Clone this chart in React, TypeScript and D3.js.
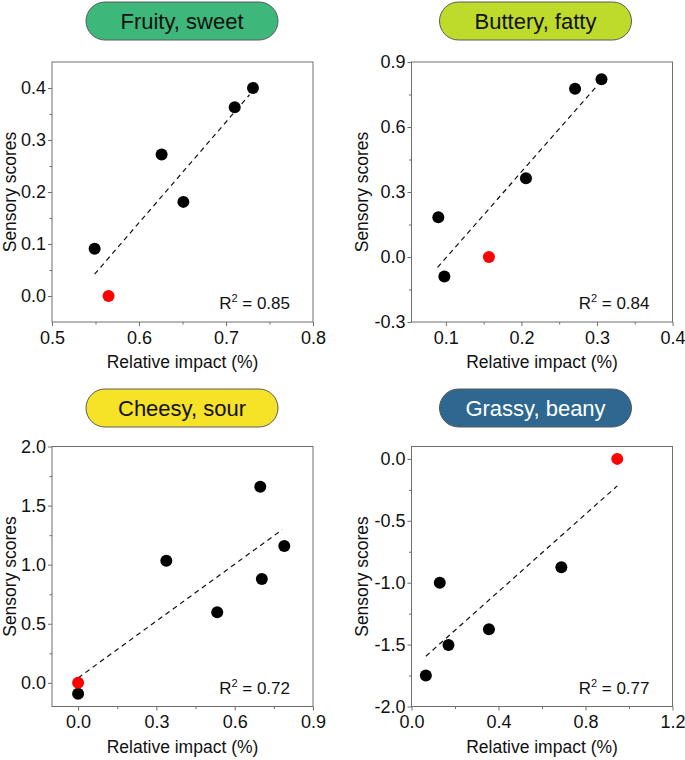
import React, { useRef, useEffect } from 'react';
import * as d3 from 'd3';

// Fruity, sweet
const fruityX = [0.549, 0.626, 0.651, 0.710, 0.731];
const fruityY = [0.091, 0.272, 0.181, 0.363, 0.400];
const fruityRef = [0.565, 0.0];
const fruityFitX = [0.549, 0.727];
const fruityFitY = [0.042, 0.387];

// Buttery, fatty
const butteryX = [0.090, 0.098, 0.206, 0.271, 0.306];
const butteryY = [0.183, -0.090, 0.363, 0.777, 0.820];
const butteryRef = [0.157, 0.0];
const butteryFitX = [0.089, 0.300];
const butteryFitY = [-0.048, 0.790];

// Cheesy, sour
const cheesyX = [0.0, 0.338, 0.533, 0.698, 0.704, 0.790];
const cheesyY = [-0.093, 1.034, 0.597, 1.659, 0.879, 1.158];
const cheesyRef = [0.0, 0.0];
const cheesyFitX = [0.0, 0.782];
const cheesyFitY = [0.042, 1.296];

// Grassy, beany
const grassyX = [0.066, 0.130, 0.170, 0.356, 0.689];
const grassyY = [-1.750, -1.000, -1.503, -1.376, -0.876];
const grassyRef = [0.946, 0.0];
const grassyFitX = [0.066, 0.946];
const grassyFitY = [-1.594, -0.218];

const plotW = 261;
const plotH = 260;
const fontFamily = 'Arial, "Liberation Sans", sans-serif';

interface PanelProps {
  left: number;
  top: number;
  title: string;
  pillColor: string;
  pillText: string;
  pillCx: number;
  pillY: number;
  xs: number[];
  ys: number[];
  refPoint: number[];
  fitX: number[];
  fitY: number[];
  xDomain: [number, number];
  yDomain: [number, number];
  xTicks: number[];
  yTicks: number[];
  xMinor: number[];
  yMinor: number[];
  r2: string;
  yLabelOffset: number;
}

const fmt = (d: d3.NumberValue) => d3.format('.1f')(Number(d)).replace('\u2212', '-');

const ScatterPanel: React.FC<PanelProps> = (p) => {
  const gRef = useRef<SVGGElement | null>(null);

  useEffect(() => {
    const g = d3.select(gRef.current);
    g.selectAll('*').remove();

    const x = d3.scaleLinear().domain(p.xDomain).range([0, plotW]);
    const y = d3.scaleLinear().domain(p.yDomain).range([plotH, 0]);

    // title pill
    g.append('rect')
      .attr('x', p.pillCx - p.left - 96)
      .attr('y', p.pillY - p.top)
      .attr('width', 192)
      .attr('height', 38)
      .attr('rx', 19)
      .attr('fill', p.pillColor)
      .attr('stroke', '#5a5a5a')
      .attr('stroke-width', 1);
    g.append('text')
      .attr('x', p.pillCx - p.left)
      .attr('y', p.pillY - p.top + 27.3)
      .attr('text-anchor', 'middle')
      .attr('font-size', 22)
      .attr('fill', p.pillText)
      .text(p.title);

    // minor ticks
    const xMinorAxis = d3.axisBottom(x).tickValues(p.xMinor).tickSize(2.5).tickFormat(() => '');
    const yMinorAxis = d3.axisLeft(y).tickValues(p.yMinor).tickSize(2.5).tickFormat(() => '');
    g.append('g').attr('transform', `translate(0,${plotH})`).call(xMinorAxis);
    g.append('g').call(yMinorAxis);

    // major ticks
    const xAxis = d3.axisBottom(x).tickValues(p.xTicks).tickSize(4).tickPadding(5).tickFormat(fmt);
    const yAxis = d3.axisLeft(y).tickValues(p.yTicks).tickSize(4).tickPadding(2).tickFormat(fmt);
    g.append('g').attr('transform', `translate(0,${plotH})`).call(xAxis);
    g.append('g').call(yAxis);

    g.selectAll('.domain').remove();
    g.selectAll('.tick line').attr('stroke', '#6e6e6e');
    g.selectAll('.tick text')
      .attr('font-size', 18)
      .attr('font-family', fontFamily)
      .attr('fill', '#111');

    // frame
    g.append('rect')
      .attr('x', 0)
      .attr('y', 0)
      .attr('width', plotW)
      .attr('height', plotH)
      .attr('fill', 'none')
      .attr('stroke', '#6e6e6e')
      .attr('stroke-width', 1);

    // fit line
    g.append('line')
      .attr('x1', x(p.fitX[0]))
      .attr('y1', y(p.fitY[0]))
      .attr('x2', x(p.fitX[1]))
      .attr('y2', y(p.fitY[1]))
      .attr('stroke', '#111')
      .attr('stroke-width', 1.2)
      .attr('stroke-dasharray', '5,4');

    // points
    g.append('g')
      .selectAll('circle')
      .data(p.xs.map((v, i) => [v, p.ys[i]]))
      .enter()
      .append('circle')
      .attr('cx', d => x(d[0]))
      .attr('cy', d => y(d[1]))
      .attr('r', 6)
      .attr('fill', '#000');

    g.append('circle')
      .attr('cx', x(p.refPoint[0]))
      .attr('cy', y(p.refPoint[1]))
      .attr('r', 6)
      .attr('fill', '#ff0000');

    // R2
    const r2 = g.append('text')
      .attr('x', plotW - 23)
      .attr('y', plotH - 13)
      .attr('text-anchor', 'end')
      .attr('font-size', 17)
      .attr('fill', '#111');
    r2.append('tspan').text('R');
    r2.append('tspan').attr('font-size', 11).attr('dy', -7).text('2');
    r2.append('tspan').attr('dy', 7).text(' = ' + p.r2);

    // axis labels
    g.append('text')
      .attr('x', plotW / 2)
      .attr('y', plotH + 46)
      .attr('text-anchor', 'middle')
      .attr('font-size', 17.5)
      .attr('fill', '#111')
      .text('Relative impact (%)');
    g.append('text')
      .attr('transform', 'rotate(-90)')
      .attr('x', -plotH / 2)
      .attr('y', -p.yLabelOffset)
      .attr('text-anchor', 'middle')
      .attr('font-size', 17.5)
      .attr('fill', '#111')
      .text('Sensory scores');
  }, [p]);

  return <g ref={gRef} transform={`translate(${p.left},${p.top})`} fontFamily={fontFamily} />;
};

const App: React.FC = () => {
  return (
    <svg width={685} height={760} style={{ position: 'absolute', left: 0, top: 0, background: '#fff' }}>
      <ScatterPanel
        left={52} top={62} title="Fruity, sweet" pillColor="#3db87a" pillText="#111"
        pillCx={182} pillY={2}
        xs={fruityX} ys={fruityY} refPoint={fruityRef} fitX={fruityFitX} fitY={fruityFitY}
        xDomain={[0.5, 0.8]} yDomain={[-0.05, 0.45]}
        xTicks={[0.5, 0.6, 0.7, 0.8]} yTicks={[0, 0.1, 0.2, 0.3, 0.4]}
        xMinor={[0.55, 0.65, 0.75]} yMinor={[0.05, 0.15, 0.25, 0.35]}
        r2="0.85" yLabelOffset={36}
      />
      <ScatterPanel
        left={411.5} top={62} title="Buttery, fatty" pillColor="#bedb2c" pillText="#111"
        pillCx={535.5} pillY={2}
        xs={butteryX} ys={butteryY} refPoint={butteryRef} fitX={butteryFitX} fitY={butteryFitY}
        xDomain={[0.0545, 0.4]} yDomain={[-0.3, 0.9]}
        xTicks={[0.1, 0.2, 0.3, 0.4]} yTicks={[-0.3, 0, 0.3, 0.6, 0.9]}
        xMinor={[0.15, 0.25, 0.35]} yMinor={[-0.15, 0.15, 0.45, 0.75]}
        r2="0.84" yLabelOffset={44}
      />
      <ScatterPanel
        left={52} top={446.5} title="Cheesy, sour" pillColor="#f6e226" pillText="#111"
        pillCx={182} pillY={389}
        xs={cheesyX} ys={cheesyY} refPoint={cheesyRef} fitX={cheesyFitX} fitY={cheesyFitY}
        xDomain={[-0.1, 0.9]} yDomain={[-0.2, 2.0]}
        xTicks={[0, 0.3, 0.6, 0.9]} yTicks={[0, 0.5, 1.0, 1.5, 2.0]}
        xMinor={[0.15, 0.45, 0.75]} yMinor={[0.25, 0.75, 1.25, 1.75]}
        r2="0.72" yLabelOffset={36}
      />
      <ScatterPanel
        left={411.5} top={446.5} title="Grassy, beany" pillColor="#2e6891" pillText="#fff"
        pillCx={535.5} pillY={389}
        xs={grassyX} ys={grassyY} refPoint={grassyRef} fitX={grassyFitX} fitY={grassyFitY}
        xDomain={[0, 1.2]} yDomain={[-2.0, 0.1]}
        xTicks={[0, 0.4, 0.8, 1.2]} yTicks={[-2.0, -1.5, -1.0, -0.5, 0]}
        xMinor={[0.2, 0.6, 1.0]} yMinor={[-1.75, -1.25, -0.75, -0.25]}
        r2="0.77" yLabelOffset={44}
      />
    </svg>
  );
};

export default App;
